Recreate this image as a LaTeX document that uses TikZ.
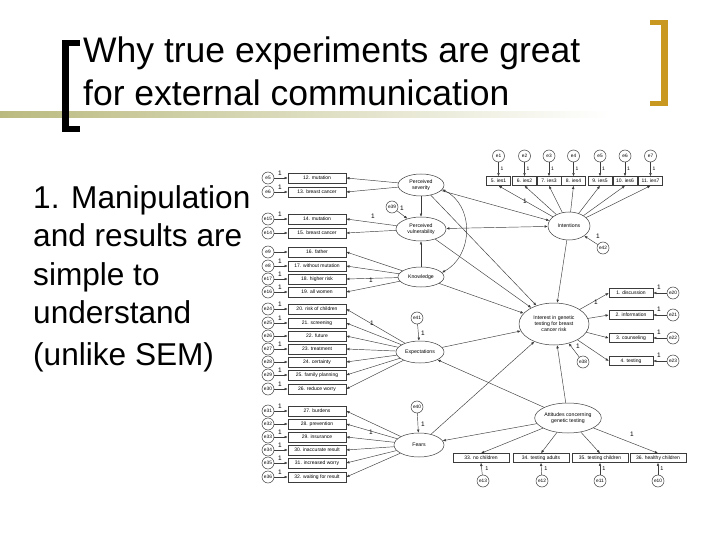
\documentclass[tikz,border=0pt]{standalone}
\usepackage{fontspec}
\setmainfont{Liberation Sans}
\usetikzlibrary{arrows.meta,shapes.geometric}
\definecolor{bargold}{RGB}{201,152,32}
\definecolor{barolive}{RGB}{186,186,128}
\definecolor{ln}{RGB}{60,60,60}
\begin{document}
\begin{tikzpicture}[x=1pt,y=-1pt,
  lbox/.style={draw=ln, line width=0.5pt, rectangle, minimum width=58pt, minimum height=10pt, inner sep=0pt, font=\fontsize{5}{6}\selectfont},
  tbox/.style={lbox, minimum width=24pt, minimum height=9pt},
  rbox/.style={lbox, minimum width=44pt, minimum height=9pt},
  bbox/.style={lbox, minimum width=56pt, minimum height=9pt},
  err/.style={draw=ln, line width=0.5pt, circle, minimum size=12pt, inner sep=0pt, font=\fontsize{4.8}{5}\selectfont},
  lat/.style={draw=ln, line width=0.5pt, ellipse, inner sep=0pt, font=\fontsize{5.2}{6}\selectfont, align=center},
  arr/.style={draw=ln, line width=0.45pt, -{Latex[length=3.2pt,width=2.6pt]}},
  arrtwo/.style={draw=ln, line width=0.45pt, {Latex[length=3.2pt,width=2.6pt]}-{Latex[length=3.2pt,width=2.6pt]}},
  one/.style={font=\fontsize{6.5}{7}\selectfont, inner sep=0pt},
  titletext/.style={anchor=base west, inner sep=0pt, font=\fontsize{35.5}{40}\selectfont},
  bodytext/.style={anchor=base west, inner sep=0pt, font=\fontsize{31.6}{36}\selectfont},
]
\useasboundingbox (0,0) rectangle (720,540);
\fill[white] (0,0) rectangle (720,540);

% decoration
\shade[left color=barolive, right color=white] (0,112) rectangle (610,118);
\fill[black] (62,40) rectangle (69,132);
\fill[black] (62,40) rectangle (80,46);
\fill[black] (62,126) rectangle (80,132);
\fill[bargold] (661,20) rectangle (668,106);
\fill[bargold] (650,20) rectangle (668,25);
\fill[bargold] (650,101) rectangle (668,106);

% title
\node[titletext] (title1) at (83,63) {Why true experiments are great};
\node[titletext] (title2) at (83,106) {for external communication};

% body
\node[bodytext] (l1) at (33,208) {1. Manipulation};
\node[bodytext] (l2) at (33,246) {and results are};
\node[bodytext] (l3) at (33,285) {simple to};
\node[bodytext] (l4) at (33,323) {understand};
\node[bodytext] (l5) at (33,365) {(unlike SEM)};

% latent variables
\node[lat, minimum width=46pt, minimum height=22pt] (sev) at (421,185) {Perceived\\severity};
\node[lat, minimum width=50pt, minimum height=24pt] (vul) at (421,229) {Perceived\\vulnerability};
\node[lat, minimum width=46pt, minimum height=20pt] (know) at (421,277) {Knowledge};
\node[lat, minimum width=48pt, minimum height=22pt] (expe) at (420,352) {Expectations};
\node[lat, minimum width=50pt, minimum height=24pt] (fears) at (419,445) {Fears};
\node[lat, minimum width=42pt, minimum height=28pt] (intn) at (569,226) {Intentions};
\node[lat, minimum width=70pt, minimum height=42pt] (inter) at (554,324) {Interest in genetic\\testing for breast\\cancer risk};
\node[lat, minimum width=64pt, minimum height=30pt] (att) at (568,418) {Attitudes concerning\\genetic testing};

% left indicators
\foreach \n/\y/\t/\e/\o in {
  12/178/{12. mutation}/e5/1,
  13/192/{13. breast cancer}/e6/1,
  14/219/{14. mutation}/e15/1,
  15/233/{15. breast cancer}/e14/0,
  16/252/{16. father}/e9/0,
  17/266/{17. without mutation}/e8/1,
  18/279/{18. higher risk}/e17/1,
  19/292/{19. all women}/e16/1,
  20/309/{20. risk of children}/e24/1,
  21/323/{21. screening}/e25/1,
  22/336/{22. future}/e26/0,
  23/349/{23. treatment}/e27/1,
  24/362/{24. certainty}/e28/0,
  25/375/{25. family planning}/e29/1,
  26/389/{26. reduce worry}/e30/1,
  27/411/{27. burdens}/e31/1,
  28/424/{28. prevention}/e32/0,
  29/437/{29. insurance}/e33/1,
  30/450/{30. inaccurate result}/e34/1,
  31/463/{31. increased worry}/e35/1,
  32/477/{32. waiting for result}/e36/1}{
  \node[lbox] (b\n) at (317,\y) {\t};
  \node[err] (le\n) at (268,\y) {\e};
  \draw[arr] (le\n) -- (b\n.west);
  \ifnum\o=1 \node[one] at (280,\y-5) {1};\fi
}
\foreach \n in {12,13}{\draw[arr] (sev) -- (b\n.east);}
\foreach \n in {14,15}{\draw[arr] (vul) -- (b\n.east);}
\foreach \n in {16,17,18,19}{\draw[arr] (know) -- (b\n.east);}
\foreach \n in {20,21,22,23,24,25,26}{\draw[arr] (expe) -- (b\n.east);}
\foreach \n in {27,28,29,30,31,32}{\draw[arr] (fears) -- (b\n.east);}
\node[one] at (373,216) {1};
\node[one] at (371,280) {1};
\node[one] at (372,323) {1};
\node[one] at (371,432) {1};

% top indicators
\foreach \k/\x/\e in {5/498.5/e1,6/524.5/e2,7/549/e3,8/573.5/e4,9/600/e5,10/625/e6,11/650.5/e7}{
  \node[tbox] (t\k) at (\x,181) {\k. ies\the\numexpr\k-4\relax};
  \node[err] (te\k) at (\x,156) {\e};
  \draw[arr] (te\k) -- (t\k.north);
  \node[one, font=\fontsize{5}{6}\selectfont] at (\x+3.5,169) {1};
  \draw[arr] (intn) -- (t\k.south);
}
\node[one] at (525,201) {1};

% right indicators
\foreach \k/\y/\t/\e in {1/293/{1. discussion}/e20,2/315/{2. information}/e21,3/338/{3. counseling}/e22,4/361/{4. testing}/e23}{
  \node[rbox] (r\k) at (631,\y) {\t};
  \node[err] (re\k) at (673,\y) {\e};
  \draw[arr] (re\k) -- (r\k.east);
  \node[one] at (659,\y-6) {1};
  \draw[arr] (inter) -- (r\k.west);
}
\node[one] at (596,302) {1};

% bottom indicators
\foreach \k/\x/\ex/\t/\e in {33/481/483/{33. no children}/e13,34/541/542/{34. testing adults}/e12,35/600/600/{35. testing children}/e11,36/658/658/{36. healthy children}/e10}{
  \node[bbox] (bb\k) at (\x,458) {\t};
  \node[err] (be\k) at (\ex,481) {\e};
  \draw[arr] (be\k) -- (bb\k.south);
  \node[one, font=\fontsize{5.5}{6}\selectfont] at (\ex+4,469) {1};
  \draw[arr] (att) -- (bb\k.north);
}
\node[one] at (632,434) {1};

% disturbances
\node[err] (e39) at (392,207) {e39};
\draw[arr] (e39) -- (vul);
\node[one] at (402,208) {1};
\node[err] (e41) at (417,318) {e41};
\draw[arr] (e41) -- (expe);
\node[one] at (423,333) {1};
\node[err] (e40) at (417,407) {e40};
\draw[arr] (e40) -- (fears);
\node[one] at (423,424) {1};
\node[err] (e42) at (603,248) {e42};
\draw[arr] (e42) -- (intn);
\node[one] at (598,236) {1};
\node[err] (e38) at (583,362) {e38};
\draw[arr] (e38) -- (inter);
\node[one] at (578,346) {1};

% structural paths
\draw[arr] (sev) -- (vul);
\draw[arr] (know) -- (vul);
\draw[arrtwo] (sev.-12) .. controls (474,205) and (474,255) .. (know.12);
\draw[arr] (sev) -- (intn);
\draw[arrtwo] (vul) -- (intn);
\draw[arr] (sev) -- (inter);
\draw[arr] (vul) -- (inter);
\draw[arr] (know) -- (inter);
\draw[arr] (intn) -- (inter);
\draw[arr] (expe) -- (inter);
\draw[arr] (fears) -- (inter);
\draw[arr] (att) -- (inter);
\draw[arr] (att) -- (expe);
\draw[arr] (att) -- (fears);
\end{tikzpicture}
\end{document}
